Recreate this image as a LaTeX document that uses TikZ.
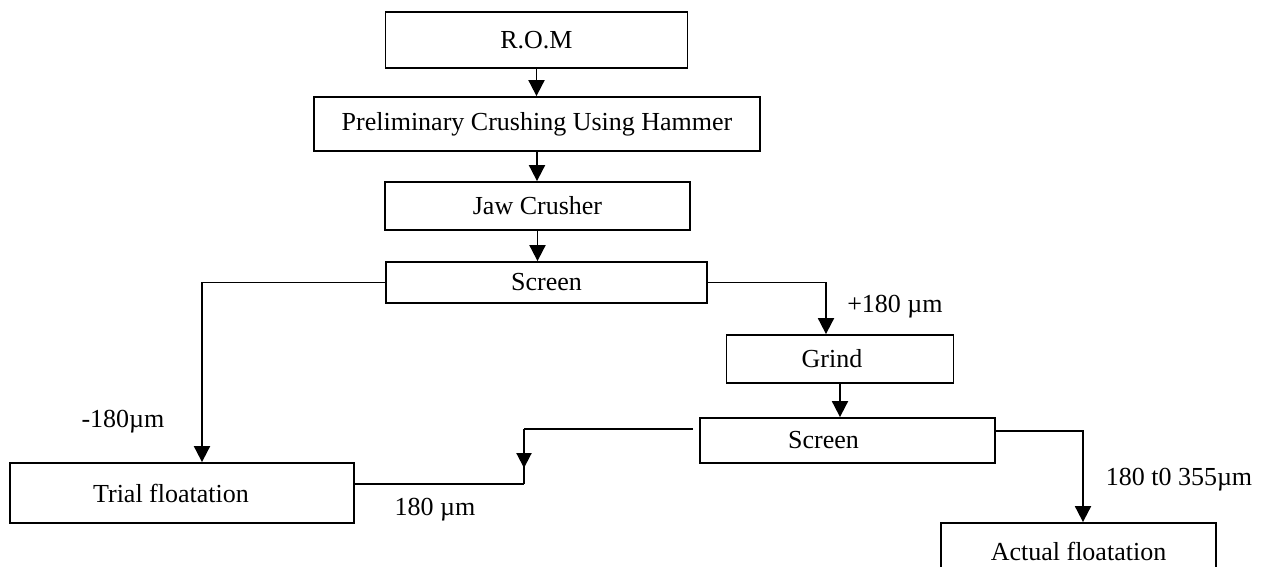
\documentclass[tikz,border=0pt]{standalone}
\usepackage{fontspec}
\setmainfont{Liberation Serif}
\usetikzlibrary{arrows.meta,decorations.markings}
\begin{document}
\begin{tikzpicture}[x=0.5pt,y=-0.5pt,
  font=\fontsize{13}{15}\selectfont,
  box/.style={draw, line width=0.9pt, inner sep=0pt, anchor=center},
  arr/.style={line width=0.95pt, -{Triangle[length=8pt,width=8pt]}},
  conn/.style={line width=0.95pt},
  midarr/.style={line width=0.95pt, postaction={decorate},
    decoration={markings, mark=at position 0.71 with {\arrow{Triangle[length=7.5pt,width=7.5pt]}}}},
  lbl/.style={inner sep=0pt}]
\useasboundingbox (0,0) rectangle (1271,567);

% boxes
\node[box, minimum width=151pt, minimum height=28pt] (rom) at (536.5,40) {R.O.M};
\node[box, minimum width=223pt, minimum height=27pt] (pre) at (537,124) {Preliminary Crushing Using Hammer};
\node[box, minimum width=152.5pt, minimum height=24pt] (jaw) at (537.5,206) {Jaw Crusher};
\node[box, minimum width=160.5pt, minimum height=20.5pt] (scr1) at (546.5,282.5) {Screen};
\node[box, minimum width=113.5pt, minimum height=24pt] (grind) at (840,359) {\hspace*{-8pt}Grind};
\node[box, minimum width=147.5pt, minimum height=22.5pt] (scr2) at (847.5,440.5) {\hspace*{-24pt}Screen};
\node[box, minimum width=172pt, minimum height=30pt] (trial) at (182,493) {\hspace*{-11pt}Trial floatation};
\node[box, minimum width=137.5pt, minimum height=28pt] (actual) at (1078.5,551) {Actual floatation};

% corner coordinates
\coordinate (tl) at (202,282.5);
\coordinate (tr) at (826,282.5);
\coordinate (s2l) at (693,429);
\coordinate (c1) at (524,429);
\coordinate (c2) at (524,484);
\coordinate (ar) at (1083,431);

% connectors
\draw[arr] (rom.south) -- (rom.south |- pre.north);
\draw[arr] (pre.south) -- (pre.south |- jaw.north);
\draw[arr] (jaw.south) -- (jaw.south |- scr1.north);
\draw[arr] (scr1.west) -- (tl) -- (tl |- trial.north);
\draw[arr] (scr1.east) -- (tr) -- (tr |- grind.north);
\draw[arr] (grind.south) -- (grind.south |- scr2.north);
\draw[conn] (s2l) -- (c1);
\draw[midarr] (c1) -- (c2);
\draw[conn] (c2) -- (c2 -| trial.east);
\draw[arr] ([yshift=4.75pt]scr2.east) -- (ar) -- (ar |- actual.north);

% labels
\node[lbl] (l1) at (123,422) {-180µm};
\node[lbl] (l2) at (895,307) {+180 µm};
\node[lbl] (l3) at (435,510) {180 µm};
\node[lbl] (l4) at (1179,480) {180 t0 355µm};
\end{tikzpicture}
\end{document}
